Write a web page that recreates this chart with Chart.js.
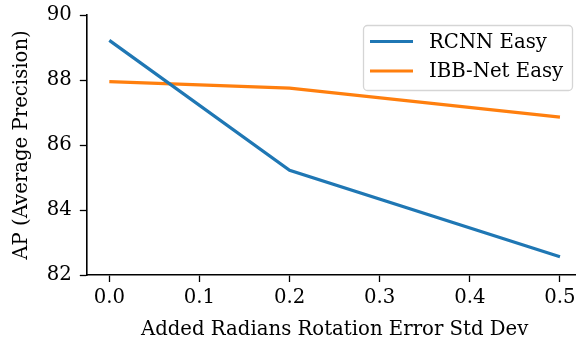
<!DOCTYPE html>
<html><head><meta charset="utf-8">
<script src="https://cdn.jsdelivr.net/npm/chart.js@4.4.0/dist/chart.umd.min.js"></script>
<style>
html,body{margin:0;padding:0;background:#fff;overflow:hidden;}
#wrap{width:576px;height:343px;overflow:hidden;position:relative;}
canvas{display:block;}
</style></head>
<body><div id="wrap"><canvas id="c" width="600" height="343" style="width:600px;height:343px"></canvas></div>
<script>
const xValues = [0.0, 0.2, 0.5];
const rcnnEasy = [89.22, 85.22, 82.56];
const ibbNetEasy = [87.95, 87.75, 86.86];
const seriesLabels = ['RCNN Easy', 'IBB-Net Easy'];
const xTicks = [0.0, 0.1, 0.2, 0.3, 0.4, 0.5];
const yTicks = [82, 84, 86, 88, 90];
const xTitle = 'Added Radians Rotation Error Std Dev';
const yTitle = 'AP (Average Precision)';

const FONT = "'DejaVu Serif', serif";
const FS = 19.7;

const legendPlugin = {
  id: 'innerLegend',
  afterDraw(chart) {
    const ctx = chart.ctx;
    const x0 = 363.5, y0 = 25.5, w = 209, h = 65;
    ctx.save();
    ctx.beginPath();
    const r = 4;
    ctx.moveTo(x0 + r, y0);
    ctx.arcTo(x0 + w, y0, x0 + w, y0 + h, r);
    ctx.arcTo(x0 + w, y0 + h, x0, y0 + h, r);
    ctx.arcTo(x0, y0 + h, x0, y0, r);
    ctx.arcTo(x0, y0, x0 + w, y0, r);
    ctx.closePath();
    ctx.fillStyle = 'rgba(255,255,255,0.8)';
    ctx.fill();
    ctx.strokeStyle = '#d5d5d5';
    ctx.lineWidth = 1.3;
    ctx.stroke();
    ctx.font = FS + 'px ' + FONT;
    ctx.textBaseline = 'middle';
    ctx.fillStyle = '#000';
    chart.data.datasets.forEach((ds, i) => {
      const yy = 41.5 + i * 29.5;
      ctx.beginPath();
      ctx.moveTo(370, yy);
      ctx.lineTo(413, yy);
      ctx.strokeStyle = ds.borderColor;
      ctx.lineWidth = 3.2;
      ctx.stroke();
      ctx.fillText(ds.label, 429, yy + 1);
    });
    ctx.restore();
  }
};

new Chart(document.getElementById('c'), {
  type: 'line',
  data: {
    datasets: [
      { label: seriesLabels[0], data: xValues.map((x, i) => ({x, y: rcnnEasy[i]})), borderColor: '#1f77b4', borderWidth: 3.2, pointRadius: 0, tension: 0 },
      { label: seriesLabels[1], data: xValues.map((x, i) => ({x, y: ibbNetEasy[i]})), borderColor: '#ff7f0e', borderWidth: 3.2, pointRadius: 0, tension: 0 }
    ]
  },
  options: {
    responsive: false,
    animation: false,
    devicePixelRatio: 1,
    layout: { padding: { left: 0, top: 15, right: 17.5, bottom: 0 } },
    plugins: { legend: { display: false }, tooltip: { enabled: false } },
    scales: {
      x: {
        type: 'linear', min: -0.025, max: 0.525,
        afterBuildTicks(s) { s.ticks = xTicks.map(v => ({ value: v })); },
        afterFit(s) { s.height = 68; },
        grid: { drawOnChartArea: false, drawTicks: true, tickLength: 7, color: '#000', tickWidth: 1.3 },
        border: { display: true, color: '#000', width: 1.6 },
        ticks: { color: '#000', font: { family: FONT, size: FS }, padding: 4, maxRotation: 0, autoSkip: false, callback: v => v.toFixed(1) },
        title: { display: true, text: xTitle, color: '#000', font: { family: FONT, size: FS }, padding: { top: 2, bottom: 1 } }
      },
      y: {
        min: 82, max: 90,
        afterBuildTicks(s) { s.ticks = yTicks.map(v => ({ value: v })); },
        afterFit(s) { s.width = 86.8; },
        grid: { drawOnChartArea: false, drawTicks: true, tickLength: 7, color: '#000', tickWidth: 1.3 },
        border: { display: true, color: '#000', width: 1.6 },
        ticks: { color: '#000', font: { family: FONT, size: FS, lineHeight: 0.5 }, padding: 8, autoSkip: false, callback: v => String(v) },
        title: { display: true, text: yTitle, color: '#000', font: { family: FONT, size: FS }, padding: { top: 10, bottom: 4 } }
      }
    }
  },
  plugins: [legendPlugin]
});
</script></body></html>
